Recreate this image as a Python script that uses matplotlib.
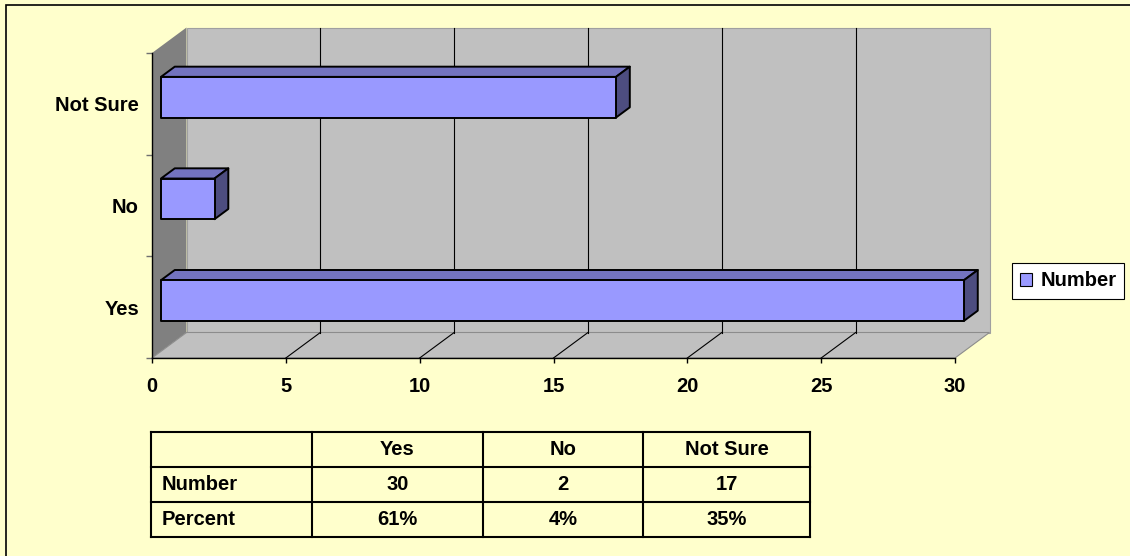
import matplotlib
matplotlib.use("Agg")
import matplotlib.pyplot as plt
from matplotlib.patches import Polygon, Rectangle, Patch
import numpy as np

# ---------------- data ----------------
categories = ["Yes", "No", "Not Sure"]
numbers = [30, 2, 17]
percents = [61, 4, 35]
series_name = "Number"
row_labels = ["Number", "Percent"]
x_ticks = [0, 5, 10, 15, 20, 25, 30]

# ---------------- style ----------------
W, H = 1130, 556
BG = "#FFFFCC"
FRONT = "#9999FF"
TOP = "#7373BF"
SIDE = "#4D4D80"
BACK_WALL = "#C0C0C0"
SIDE_WALL = "#808080"
FLOOR = "#C0C0C0"
FS = 14.5

plt.rcParams['font.family'] = ['Liberation Sans', 'DejaVu Sans']
plt.rcParams['font.weight'] = 'bold'

fig = plt.figure(figsize=(W / 100, H / 100), dpi=100, facecolor=BG)

# border (only top and left are visible in the reference)
fig.add_artist(Rectangle((6 / W, -0.2), 1.5, 1 - 5 / H + 0.2, transform=fig.transFigure,
                         fill=False, ec="black", lw=1.2))

# front plane of the 3D box, in pixels
AX_L, AX_R, AX_T, AX_B = 152, 955, 53, 358
ax = fig.add_axes([AX_L / W, 1 - AX_B / H, (AX_R - AX_L) / W, (AX_B - AX_T) / H])
ax.patch.set_visible(False)
xmin, xmax = x_ticks[0], x_ticks[-1]
ymin, ymax = -0.5, len(categories) - 0.5
ax.set_xlim(xmin, xmax)
ax.set_ylim(ymin, ymax)

DX = 34.5 / (AX_R - AX_L) * (xmax - xmin)
DY = 25.5 / (AX_B - AX_T) * (ymax - ymin)

# walls
ax.add_patch(Polygon([(xmin + DX, ymin + DY), (xmax + DX, ymin + DY), (xmax + DX, ymax + DY),
                      (xmin + DX, ymax + DY)], closed=True, fc=BACK_WALL, ec="#A0A0A0", lw=0.8,
                     clip_on=False, zorder=0.1))
ax.add_patch(Polygon([(xmin, ymin), (xmin + DX, ymin + DY), (xmin + DX, ymax + DY), (xmin, ymax)],
                     closed=True, fc=SIDE_WALL, ec="none", clip_on=False, zorder=0.2))
ax.add_patch(Polygon([(xmin, ymin), (xmax, ymin), (xmax + DX, ymin + DY), (xmin + DX, ymin + DY)],
                     closed=True, fc=FLOOR, ec="#8C8C8C", lw=0.8, clip_on=False, zorder=0.3))

# gridlines on back wall and floor
for t in x_ticks[1:-1]:
    ax.plot([t + DX, t + DX], [ymin + DY, ymax + DY], color="black", lw=0.8, clip_on=False, zorder=0.5)
    ax.plot([t, t + DX], [ymin, ymin + DY], color="black", lw=0.8, clip_on=False, zorder=0.5)

# 3D bars
half = 0.2
f0, f1 = 0.26, 0.66
for i, v in enumerate(numbers):
    c = i
    x0a, x0b = xmin + f0 * DX, xmin + f1 * DX
    xa, xb = v + f0 * DX, v + f1 * DX
    ya_lo, ya_hi = c - half + f0 * DY, c + half + f0 * DY
    yb_lo, yb_hi = c - half + f1 * DY, c + half + f1 * DY
    kw = dict(closed=True, ec="black", lw=1.4, joinstyle="round", clip_on=False, zorder=2)
    ax.add_patch(Polygon([(x0a, ya_hi), (xa, ya_hi), (xb, yb_hi), (x0b, yb_hi)], fc=TOP, **kw))
    ax.add_patch(Polygon([(xa, ya_lo), (xb, yb_lo), (xb, yb_hi), (xa, ya_hi)], fc=SIDE, **kw))
    ax.add_patch(Polygon([(x0a, ya_lo), (xa, ya_lo), (xa, ya_hi), (x0a, ya_hi)], fc=FRONT, **kw))

# axes styling
for s in ("top", "right"):
    ax.spines[s].set_visible(False)
for s in ("left", "bottom"):
    ax.spines[s].set_color("black")
    ax.spines[s].set_linewidth(1.0)
    ax.spines[s].set_zorder(3)

ax.set_xticks(x_ticks)
ax.set_xticklabels([str(t) for t in x_ticks], fontsize=FS, fontweight="bold")
ax.tick_params(axis="x", direction="out", length=3.6, width=1, color="black", pad=10)

ax.set_yticks(range(len(categories)))
ax.set_yticklabels(categories, fontsize=FS, fontweight="bold")
ax.tick_params(axis="y", which="major", length=0, pad=9.4)
ax.set_yticks(np.arange(ymin, ymax + 0.01, 1.0), minor=True)
ax.tick_params(axis="y", which="minor", direction="out", length=4.3, width=1, color="#707070")

# legend
leg = fig.legend(handles=[Patch(fc=FRONT, ec="black", lw=0.8, label=series_name)],
                 loc="center left", bbox_to_anchor=(1012 / W, 1 - 281 / H),
                 frameon=True, fancybox=False, edgecolor="black", facecolor="white", framealpha=1,
                 borderpad=0.4, handlelength=0.6, handleheight=0.6, handletextpad=0.4,
                 borderaxespad=0, prop=dict(weight="bold", size=FS))
leg.get_frame().set_linewidth(0.8)

# data table
T_L, T_R, T_T, T_B = 151, 810, 432, 537
col_edges_px = [151, 312, 483, 643, 810]
axt = fig.add_axes([T_L / W, 1 - T_B / H, (T_R - T_L) / W, (T_B - T_T) / H])
axt.set_xlim(T_L, T_R)
axt.set_ylim(0, 3)
axt.axis("off")
for xe in col_edges_px:
    axt.plot([xe, xe], [0, 3], color="black", lw=1.5, clip_on=False, solid_capstyle="projecting")
for ye in range(4):
    axt.plot([T_L, T_R], [ye, ye], color="black", lw=1.5, clip_on=False, solid_capstyle="projecting")

rows = [[""] + categories,
        [row_labels[0]] + [str(v) for v in numbers],
        [row_labels[1]] + [f"{p}%" for p in percents]]
for r, row in enumerate(rows):
    yc = 3 - r - 0.5
    for cidx, txt in enumerate(row):
        if cidx == 0:
            axt.text(col_edges_px[0] + 11, yc, txt, ha="left", va="center", fontsize=FS, fontweight="bold")
        else:
            xc = (col_edges_px[cidx] + col_edges_px[cidx + 1]) / 2
            axt.text(xc, yc, txt, ha="center", va="center", fontsize=FS, fontweight="bold")

fig.savefig("out.png", dpi=100, facecolor=BG)
